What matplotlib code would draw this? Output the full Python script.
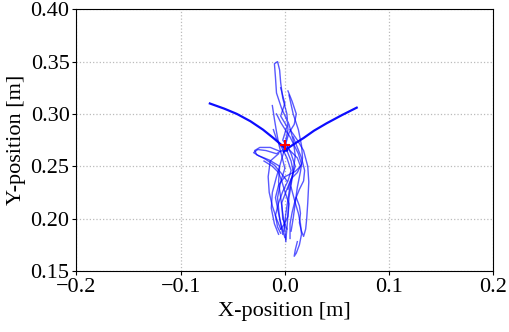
import matplotlib
matplotlib.use('agg')
import matplotlib.pyplot as plt

plt.rcParams['font.family'] = ['Liberation Serif', 'DejaVu Serif']

# start arms (thick, overlapping runs), ending at the target
arm_left_x = [-0.072, -0.058, -0.046, -0.033, -0.021, -0.011, -0.004, 0.002]
arm_left_y = [0.310, 0.305, 0.300, 0.293, 0.285, 0.277, 0.271, 0.265]
arm_right_x = [0.069, 0.055, 0.040, 0.028, 0.018, 0.010, 0.004, -0.001]
arm_right_y = [0.306, 0.299, 0.291, 0.284, 0.277, 0.272, 0.268, 0.264]

# thin wandering trajectories
traj_a_x = [0.002, 0.006, 0.008, 0.006, 0.004, 0.003, 0.002, 0.001]
traj_a_y = [0.265, 0.255, 0.245, 0.232, 0.220, 0.205, 0.190, 0.180]
traj_b_x = [-0.001, -0.005, -0.006, -0.004, -0.002, 0.000, 0.001]
traj_b_y = [0.264, 0.250, 0.235, 0.220, 0.205, 0.190, 0.178]
traj_c_x = [0.000, 0.003, 0.002, -0.002, -0.004, -0.005, -0.007, -0.010, -0.009, -0.008, -0.003, 0.004, 0.008, 0.010, 0.008, 0.004, 0.001, -0.001]
traj_c_y = [0.270, 0.285, 0.300, 0.315, 0.330, 0.342, 0.350, 0.348, 0.335, 0.320, 0.305, 0.290, 0.275, 0.260, 0.245, 0.225, 0.205, 0.188]
traj_d_x = [0.002, -0.008, -0.018, -0.026, -0.030, -0.025, -0.015, -0.005, -0.008, -0.012, -0.013, -0.010, -0.006]
traj_d_y = [0.268, 0.262, 0.265, 0.266, 0.263, 0.260, 0.256, 0.250, 0.240, 0.225, 0.210, 0.195, 0.185]
traj_d2_x = [-0.004, -0.014, -0.024, -0.029, -0.027, -0.019, -0.010, -0.004, 0.002]
traj_d2_y = [0.264, 0.268, 0.268, 0.265, 0.261, 0.257, 0.251, 0.244, 0.236]
traj_e_x = [0.005, 0.012, 0.018, 0.022, 0.023, 0.022, 0.021, 0.020, 0.018, 0.016, 0.014, 0.015, 0.014, 0.011]
traj_e_y = [0.285, 0.275, 0.265, 0.250, 0.235, 0.215, 0.200, 0.190, 0.183, 0.188, 0.196, 0.205, 0.212, 0.220]
traj_f_x = [-0.012, -0.010, -0.008, -0.006, -0.003, 0.000, -0.004, -0.007, -0.005, -0.002]
traj_f_y = [0.308, 0.295, 0.283, 0.272, 0.260, 0.248, 0.235, 0.220, 0.200, 0.185]
traj_g_x = [0.004, 0.008, 0.013, 0.016, 0.017, 0.015, 0.012, 0.010, 0.008, 0.006]
traj_g_y = [0.318, 0.300, 0.285, 0.270, 0.258, 0.245, 0.230, 0.215, 0.200, 0.188]
traj_h_x = [-0.004, 0.000, -0.004, 0.002, -0.002, 0.005, 0.012, 0.015, 0.010, 0.000, -0.006, -0.009, -0.006, -0.003, 0.000]
traj_h_y = [0.325, 0.310, 0.298, 0.288, 0.275, 0.265, 0.258, 0.250, 0.245, 0.240, 0.232, 0.220, 0.205, 0.192, 0.182]
traj_i_x = [-0.006, -0.014, -0.016, -0.015, -0.012, -0.008, -0.004]
traj_i_y = [0.262, 0.255, 0.240, 0.225, 0.212, 0.200, 0.190]
traj_j_x = [0.006, 0.010, 0.013, 0.015, 0.016, 0.014, 0.011, 0.009, 0.010, 0.012]
traj_j_y = [0.230, 0.215, 0.205, 0.195, 0.185, 0.175, 0.167, 0.164, 0.170, 0.178]
traj_k_x = [0.003, 0.007, 0.011, 0.009, 0.004, 0.001, 0.006, 0.010, 0.007, 0.003]
traj_k_y = [0.322, 0.312, 0.300, 0.290, 0.282, 0.272, 0.262, 0.250, 0.240, 0.228]
traj_l_x = [-0.008, -0.004, 0.001, 0.005, 0.009, 0.013, 0.016, 0.012, 0.006, 0.002, -0.003, -0.002, 0.002]
traj_l_y = [0.300, 0.292, 0.284, 0.278, 0.270, 0.262, 0.252, 0.244, 0.238, 0.228, 0.215, 0.200, 0.190]
traj_m_x = [-0.011, -0.008, -0.003, 0.002, 0.006, 0.003, -0.002, -0.006, -0.009, -0.007, -0.004]
traj_m_y = [0.285, 0.276, 0.268, 0.258, 0.246, 0.236, 0.226, 0.215, 0.203, 0.192, 0.186]
traj_n_x = [0.008, 0.012, 0.016, 0.019, 0.018, 0.014, 0.010, 0.007, 0.005, 0.005]
traj_n_y = [0.278, 0.268, 0.258, 0.246, 0.236, 0.228, 0.218, 0.206, 0.195, 0.181]
traj_o_x = [-0.020, -0.012, -0.006, -0.003, 0.000, 0.004, 0.003, -0.001, -0.004]
traj_o_y = [0.255, 0.250, 0.244, 0.236, 0.226, 0.214, 0.202, 0.194, 0.190]

target_x = [0.0]
target_y = [0.27]

fig = plt.figure(figsize=(5.1, 3.32), dpi=100)
ax = fig.add_axes([0.150, 0.184, 0.817, 0.788])

thin = [(traj_a_x, traj_a_y), (traj_b_x, traj_b_y), (traj_c_x, traj_c_y),
        (traj_d_x, traj_d_y), (traj_d2_x, traj_d2_y), (traj_e_x, traj_e_y),
        (traj_f_x, traj_f_y), (traj_g_x, traj_g_y), (traj_h_x, traj_h_y),
        (traj_i_x, traj_i_y), (traj_j_x, traj_j_y), (traj_k_x, traj_k_y),
        (traj_l_x, traj_l_y), (traj_m_x, traj_m_y), (traj_n_x, traj_n_y),
        (traj_o_x, traj_o_y)]
for xs, ys in thin:
    ax.plot(xs, ys, color='blue', linewidth=1.0, alpha=0.65)

for xs, ys in [(arm_left_x, arm_left_y), (arm_right_x, arm_right_y)]:
    ax.plot(xs, ys, color='blue', linewidth=1.6, alpha=0.95)

ax.plot(target_x, target_y, '+', color='red', markersize=7, markeredgewidth=1.5)

ax.set_xlim(-0.2, 0.2)
ax.set_ylim(0.15, 0.40)
ax.set_xticks([-0.2, -0.1, 0.0, 0.1, 0.2])
ax.set_yticks([0.15, 0.20, 0.25, 0.30, 0.35, 0.40])
ax.set_yticklabels(['0.15', '0.20', '0.25', '0.30', '0.35', '0.40'])
ax.grid(True, linestyle=':', color='#bbbbbb', linewidth=0.9)
ax.tick_params(labelsize=16, length=3, pad=2)
ax.set_xlabel('X-position [m]', fontsize=16, labelpad=4)
ax.set_ylabel('Y-position [m]', fontsize=16, labelpad=3)

fig.savefig('out.png', dpi=100)
